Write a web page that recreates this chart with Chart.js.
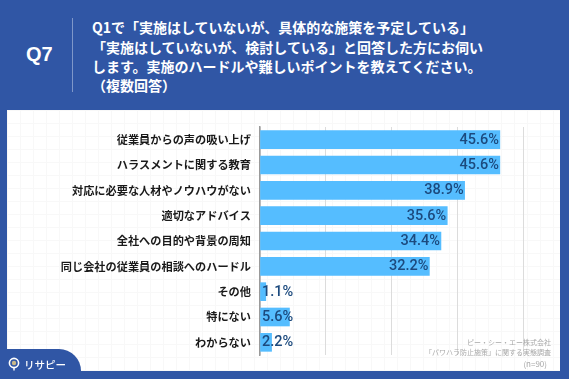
<!DOCTYPE html>
<html lang="ja">
<head>
<meta charset="utf-8">
<title>Q7</title>
<script src="https://cdn.jsdelivr.net/npm/chart.js"></script>
<style>
    html, body { margin: 0; padding: 0; }
    body {
        position: relative; width: 569px; height: 379px; overflow: hidden;
        background: #3056a5; color: #fff;
        font-family: "Noto Sans CJK JP", sans-serif; font-weight: 700;
    }
    #panel {
        position: absolute; left: 7px; top: 110px; width: 553px; height: 261px;
        background-color: #fff;
        background-image:
            linear-gradient(#f8f8f8 1px, transparent 1px),
            linear-gradient(90deg, #f8f8f8 1px, transparent 1px);
        background-size: 13px 13px;
    }
    #chart3 { position: absolute; left: 0; top: 0; }
    #qno {
        position: absolute; left: 26px; top: 43px;
        font: 700 20px "Liberation Sans", sans-serif;
    }
    #divider { position: absolute; left: 72px; top: 18px; width: 1px; height: 74px; background: #7f97c9; }
    .q { position: absolute; left: 92px; font-size: 14px; line-height: 20px; white-space: nowrap; }
    #tab {
        position: absolute; left: 7px; top: 349px; width: 74px; height: 22px;
        background: #3056a5; border-top-right-radius: 24px;
    }
    #logo { position: absolute; left: 24px; top: 356px; font-size: 10.5px; line-height: 18px; font-weight: 500; }
    #pin { position: absolute; left: 8px; top: 357px; }
    .src {
        position: absolute; right: 18px; font-size: 7px; line-height: 11px;
        font-weight: 400; color: #a8a8a8; white-space: nowrap;
    }
</style>
</head>
<body>
<div id="panel"></div>
<div id="qno">Q7</div>
<div id="divider"></div>
<div class="q" style="top:16.5px">Q1で「実施はしていないが、具体的な施策を予定している」</div>
<div class="q" style="top:36.5px">「実施はしていないが、検討している」と回答した方にお伺い</div>
<div class="q" style="top:55.5px">します。実施のハードルや難しいポイントを教えてください。</div>
<div class="q" style="top:74.5px">（複数回答）</div>
<canvas id="chart3" width="569" height="379"></canvas>
<div class="src" style="top:336.5px">ピー・シー・エー株式会社</div>
<div class="src" style="top:347px">「パワハラ防止施策」に関する実態調査</div>
<div class="src" style="top:357.5px;right:22px;font-size:8px">(n=90)</div>
<div id="tab"></div>
<svg id="pin" width="12" height="16" viewBox="0 0 12 16">
    <circle cx="6" cy="6" r="4.6" fill="#3056a5" stroke="#fff" stroke-width="1.6"/>
    <circle cx="6" cy="6" r="2.2" fill="#c9b98a"/>
    <rect x="5.3" y="10.5" width="1.4" height="3" fill="#fff"/>
</svg>
<div id="logo">リサピー</div>
<script>
const categories = [
    '従業員からの声の吸い上げ',
    'ハラスメントに関する教育',
    '対応に必要な人材やノウハウがない',
    '適切なアドバイス',
    '全社への目的や背景の周知',
    '同じ会社の従業員の相談へのハードル',
    'その他',
    '特にない',
    'わからない'
];
const percentages = [45.6, 45.6, 38.9, 35.6, 34.4, 32.2, 1.1, 5.6, 2.2];

// value labels: inside the bar end, or from the axis when the bar is too short
const valueLabels = {
    id: 'valueLabels',
    afterDatasetsDraw(chart) {
        const ctx = chart.ctx;
        const meta = chart.getDatasetMeta(0);
        ctx.save();
        ctx.font = '500 14.5px Roboto, sans-serif';
        ctx.fillStyle = '#1c4a7e';
        ctx.textBaseline = 'middle';
        meta.data.forEach((bar, i) => {
            const text = percentages[i].toFixed(1) + '%';
            if (percentages[i] < 10) {
                ctx.textAlign = 'left';
                ctx.fillText(text, chart.scales.x.left + 2, bar.y + 0.5);
            } else {
                ctx.textAlign = 'right';
                ctx.fillText(text, bar.x - 1, bar.y + 0.5);
            }
        });
        ctx.restore();
    }
};

new Chart(document.getElementById('chart3').getContext('2d'), {
    type: 'bar',
    data: {
        labels: categories,
        datasets: [{
            data: percentages,
            backgroundColor: '#55bdff',
            barThickness: 18
        }]
    },
    options: {
        indexAxis: 'y',
        responsive: false,
        animation: false,
        layout: { padding: { left: 0, right: 46, top: 127, bottom: 24 } },
        plugins: { legend: { display: false }, tooltip: { enabled: false } },
        scales: {
            x: {
                min: 0,
                max: 50,
                ticks: { display: false, stepSize: 12.5 },
                grid: { color: '#dcdcdc', lineWidth: 1, drawTicks: false },
                border: { display: false }
            },
            y: {
                afterFit(scale) { scale.width = 260; }, // keeps the axis at x=260
                ticks: {
                    color: '#1a1a1a',
                    padding: 9,
                    font: { family: '"Noto Sans CJK JP"', weight: '700', size: 11.2 }
                },
                grid: { display: false, drawTicks: false },
                border: { color: '#9a9a9a', width: 1.5 }
            }
        }
    },
    plugins: [valueLabels]
});
</script>
</body>
</html>
